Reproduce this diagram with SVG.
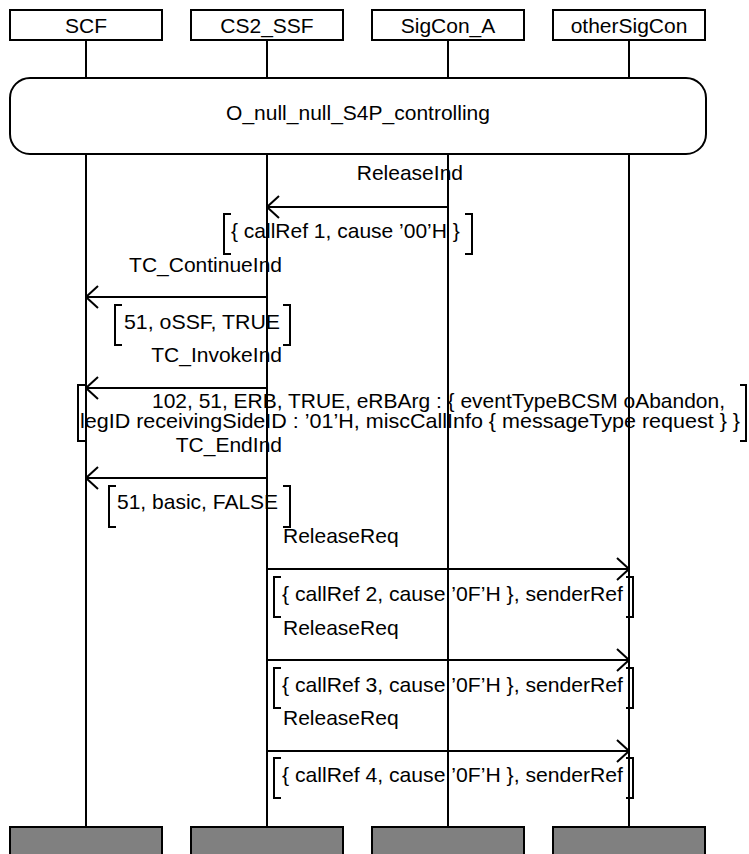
<svg xmlns="http://www.w3.org/2000/svg" width="749" height="854" viewBox="0 0 749 854">
<style>
text{font-family:"Liberation Sans",Arial,sans-serif;font-size:21px;fill:#000}
.c{text-anchor:middle}
.e{text-anchor:end}
.box{fill:#fff;stroke:#000;stroke-width:2}
.end{fill:#808080;stroke:#000;stroke-width:2}
.ln{stroke:#000;stroke-width:2;fill:none}
.br{stroke:#000;stroke-width:2;fill:none}
</style>
<defs>
<marker id="ah" viewBox="0 0 14 24" refX="13" refY="12" markerWidth="14" markerHeight="24" markerUnits="userSpaceOnUse" orient="auto">
<path d="M1 1 L13 12 L1 23" fill="none" stroke="#000" stroke-width="2"/>
</marker>
</defs>
<g id="lifelines">
<path class="ln" d="M86 40V78M267 40V78M448 40V78M629 40V78M86 154V827M267 154V827M448 154V827M629 154V827"/>
</g>
<g id="SCF"><rect class="box" x="10" y="10" width="152" height="30"/><text class="c" x="86" y="33">SCF</text></g>
<g id="CS2_SSF"><rect class="box" x="191" y="10" width="152" height="30"/><text class="c" x="267" y="33">CS2_SSF</text></g>
<g id="SigCon_A"><rect class="box" x="372" y="10" width="152" height="30"/><text class="c" x="448" y="33">SigCon_A</text></g>
<g id="otherSigCon"><rect class="box" x="553" y="10" width="152" height="30"/><text class="c" x="629" y="33">otherSigCon</text></g>
<g id="state"><rect class="box" x="10" y="78" width="696" height="76" rx="20" ry="20"/><text class="c" x="358" y="120">O_null_null_S4P_controlling</text></g>
<g id="connectors">
<line class="ln" x1="448" y1="207" x2="267" y2="207" marker-end="url(#ah)"/>
<line class="ln" x1="267" y1="297" x2="86" y2="297" marker-end="url(#ah)"/>
<line class="ln" x1="267" y1="388" x2="86" y2="388" marker-end="url(#ah)"/>
<line class="ln" x1="267" y1="478" x2="86" y2="478" marker-end="url(#ah)"/>
<line class="ln" x1="267" y1="569" x2="629" y2="569" marker-end="url(#ah)"/>
<line class="ln" x1="267" y1="660" x2="629" y2="660" marker-end="url(#ah)"/>
<line class="ln" x1="267" y1="751" x2="629" y2="751" marker-end="url(#ah)"/>
</g>
<g id="labels">
<text class="e" x="463" y="180">ReleaseInd</text>
<path class="br" d="M231 214H224V254H231M465 214H472V254H465"/>
<text x="231" y="238">{ callRef 1, cause ’00’H }</text>
<text class="e" x="282" y="272">TC_ContinueInd</text>
<path class="br" d="M122 305H115V345H122M283 305H290V345H283"/>
<text x="124" y="329" textLength="156" lengthAdjust="spacingAndGlyphs">51, oSSF, TRUE</text>
<text class="e" x="282" y="362">TC_InvokeInd</text>
<path class="br" d="M85 385H78V441H85M740 385H746V441H740"/>
<text x="152" y="408" textLength="573" lengthAdjust="spacingAndGlyphs">102, 51, ERB, TRUE, eRBArg : { eventTypeBCSM oAbandon,</text>
<text x="80" y="428" textLength="660" lengthAdjust="spacingAndGlyphs">legID receivingSideID : ’01’H, miscCallInfo { messageType request } }</text>
<text class="e" x="282" y="452">TC_EndInd</text>
<path class="br" d="M116 486H109V527H116M283 486H290V527H283"/>
<text x="117" y="509">51, basic, FALSE</text>
<text x="283" y="543">ReleaseReq</text>
<path class="br" d="M281 577H274V617H281M626 577H633V617H626"/>
<text x="282" y="601" textLength="341" lengthAdjust="spacingAndGlyphs">{ callRef 2, cause ’0F’H }, senderRef</text>
<text x="283" y="635">ReleaseReq</text>
<path class="br" d="M281 668H274V708H281M626 668H633V708H626"/>
<text x="282" y="692" textLength="341" lengthAdjust="spacingAndGlyphs">{ callRef 3, cause ’0F’H }, senderRef</text>
<text x="283" y="725">ReleaseReq</text>
<path class="br" d="M281 758H274V798H281M626 758H633V798H626"/>
<text x="282" y="782" textLength="341" lengthAdjust="spacingAndGlyphs">{ callRef 4, cause ’0F’H }, senderRef</text>
</g>
<g id="ends">
<rect class="end" x="10" y="827" width="152" height="40"/>
<rect class="end" x="191" y="827" width="152" height="40"/>
<rect class="end" x="372" y="827" width="152" height="40"/>
<rect class="end" x="553" y="827" width="152" height="40"/>
</g>
</svg>
